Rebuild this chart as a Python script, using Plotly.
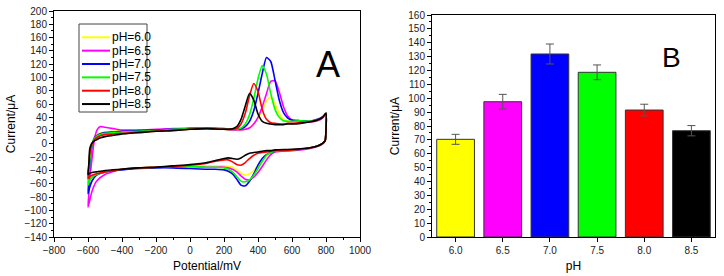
import plotly.graph_objects as go

# ---------------- Data ----------------
series_names = ["pH=6.0", "pH=6.5", "pH=7.0", "pH=7.5", "pH=8.0", "pH=8.5"]
series_colors = ["#FFFF00", "#FF00FF", "#0000FF", "#00FF00", "#FF0000", "#000000"]

# anodic (forward) branch potentials, mV
up_E = [-600, -595, -590, -580, -570, -560, -545, -530, -500, -450, -400, -300, -200, -100, 0, 100,
        200, 250, 275, 300, 325, 350, 375, 400, 425, 450, 475, 500, 525, 550, 575, 600, 650, 700,
        750, 780, 800]
# cathodic (reverse) branch potentials, mV
dn_E = [800, 795, 780, 750, 700, 600, 500, 475, 450, 425, 400, 375, 350, 325, 300, 275, 250, 225,
        200, 150, 100, 0, -100, -200, -300, -400, -500, -550, -575, -590, -600]

ph60_up = [-57, -40, -20, -4, 5, 10, 14, 16, 18, 19, 20, 20, 21, 22, 23, 24,
           22, 21, 21, 21, 22, 25, 30, 38, 50, 65, 70, 60, 46, 37, 34, 34, 34, 34,
           36, 40, 45]
ph65_up = [-95, -75, -55, -30, -8, 10, 22, 26, 25, 23, 21, 21, 22, 23, 24, 24,
           22, 21, 21, 21, 22, 24, 30, 40, 56, 76, 94, 95, 78, 56, 42, 36, 35, 33,
           35, 39, 44]
ph70_up = [-75, -55, -32, -8, 4, 10, 13, 15, 17, 18, 19, 20, 21, 22, 23, 24,
           23, 22, 22, 23, 26, 34, 50, 76, 106, 130, 124, 96, 66, 47, 39, 36, 35, 34,
           37, 41, 46]
ph75_up = [-62, -45, -25, -5, 4, 9, 12, 14, 16, 17, 18, 19, 20, 22, 23, 24,
           22, 22, 22, 24, 30, 44, 68, 98, 118, 105, 76, 52, 40, 35, 34, 34, 35, 34,
           36, 40, 46]
ph80_up = [-52, -35, -15, -3, 3, 7, 10, 12, 14, 15, 16, 18, 19, 21, 22, 23,
           22, 22, 23, 30, 46, 72, 91, 79, 52, 37, 32, 31, 30, 30, 31, 31, 32, 33,
           36, 40, 46]
ph85_up = [-46, -30, -8, 0, 3, 5, 7, 9, 11, 13, 15, 17, 19, 20, 22, 23,
           22, 23, 26, 37, 57, 76, 66, 45, 34, 31, 30, 29, 29, 29, 30, 30, 31, 33,
           36, 40, 46]

ph60_dn = [22, 5, 1, -3, -6, -9, -12, -14, -18, -25, -33, -40, -45, -47, -44, -39, -35, -34,
           -33, -33, -33, -33, -34, -35, -36, -38, -42, -46, -49, -53, -57]
ph65_dn = [22, 5, 0, -4, -7, -10, -12, -16, -24, -34, -43, -50, -54, -53, -48, -42, -38, -36,
           -35, -35, -35, -34, -34, -35, -36, -38, -46, -56, -70, -85, -95]
ph70_dn = [22, 5, 1, -3, -6, -9, -11, -13, -16, -22, -32, -45, -56, -63, -62, -53, -45, -41,
           -39, -38, -38, -37, -36, -36, -37, -39, -42, -47, -55, -65, -75]
ph75_dn = [22, 5, 1, -3, -6, -9, -11, -13, -17, -26, -37, -47, -54, -57, -56, -49, -42, -38,
           -36, -35, -35, -34, -34, -35, -36, -38, -42, -46, -50, -55, -62]
ph80_dn = [22, 5, 1, -3, -6, -9, -10, -11, -12, -13, -14, -17, -22, -28, -32, -31, -27, -24,
           -24, -26, -29, -32, -34, -35, -36, -38, -42, -45, -47, -49, -52]
ph85_dn = [22, 5, 1, -3, -6, -8, -9, -10, -10, -11, -12, -13, -14, -17, -21, -23, -22, -21,
           -22, -25, -28, -31, -33, -35, -36, -38, -40, -42, -43, -44, -46]

up_curves = [ph60_up, ph65_up, ph70_up, ph75_up, ph80_up, ph85_up]
dn_curves = [ph60_dn, ph65_dn, ph70_dn, ph75_dn, ph80_dn, ph85_dn]

# bar chart
ph_labels = ["6.0", "6.5", "7.0", "7.5", "8.0", "8.5"]
peak_current = [70.4, 97.5, 131.9, 118.7, 91.5, 76.6]
peak_error = [3.6, 5.3, 7.2, 5.3, 4.2, 3.7]

FONT = "Arial, Liberation Sans, sans-serif"
W, H = 724, 276

fig = go.Figure()

for name, col, up, dn in zip(series_names, series_colors, up_curves, dn_curves):
    fig.add_trace(go.Scatter(
        x=up_E + dn_E, y=up + dn, mode="lines", name=name,
        line=dict(color=col, width=1.6, shape="spline", smoothing=0.6),
        xaxis="x", yaxis="y", showlegend=False,
    ))

fig.add_trace(go.Bar(
    x=ph_labels, y=peak_current,
    marker=dict(color=series_colors, line=dict(color="#333333", width=1)),
    error_y=dict(type="data", array=peak_error, visible=True, color="#555555",
                 thickness=1, width=4),
    width=0.8, xaxis="x2", yaxis="y2", showlegend=False,
))

axis_common = dict(
    showline=True, linecolor="black", linewidth=1, mirror=True, automargin=False,
    ticks="outside", ticklen=4, tickcolor="black", showgrid=False, zeroline=False,
    tickfont=dict(family=FONT, size=10, color="#222"),
)

# ---- legend box drawn in paper space (compact, Origin-style) ----
leg_left, leg_right, leg_top, leg_bottom = 79, 147, 24, 112
row0, row_step = 37.3, 13.35
shapes = [dict(type="rect", xref="paper", yref="paper",
               x0=leg_left / W, x1=leg_right / W, y0=1 - leg_bottom / H, y1=1 - leg_top / H,
               line=dict(color="#444", width=1), fillcolor="rgba(0,0,0,0)", layer="above")]
annotations = []
for i, (name, col) in enumerate(zip(series_names, series_colors)):
    yy = 1 - (row0 + i * row_step) / H
    shapes.append(dict(type="line", xref="paper", yref="paper",
                       x0=82 / W, x1=110 / W, y0=yy, y1=yy,
                       line=dict(color=col, width=2), layer="above"))
    annotations.append(dict(text=name, x=110 / W, y=yy, xref="paper", yref="paper",
                            xanchor="left", yanchor="middle", showarrow=False,
                            font=dict(family=FONT, size=12, color="black")))

annotations += [
    dict(text="A", x=328 / W, y=1 - 42 / H, xref="paper", yref="paper",
         showarrow=False, font=dict(family=FONT, size=36, color="black")),
    dict(text="B", x=683 / W, y=1 - 40 / H, xref="paper", yref="paper",
         showarrow=False, font=dict(family=FONT, size=28, color="black")),
]

fig.update_layout(
    width=W, height=H,
    margin=dict(l=0, r=0, t=0, b=0, autoexpand=False),
    paper_bgcolor="white", plot_bgcolor="white",
    font=dict(family=FONT, color="black"),
    showlegend=False,
    xaxis=dict(domain=[54 / W, 360 / W], range=[-800, 1000], dtick=200,
               minor=dict(ticks="outside", ticklen=2, dtick=100, tickcolor="black"),
               title=dict(text="Potential/mV", font=dict(size=12), standoff=6),
               anchor="y", **axis_common),
    yaxis=dict(domain=[1 - 237 / H, 1 - 11 / H], range=[-140, 200], dtick=20,
               minor=dict(ticks="outside", ticklen=2, dtick=10, tickcolor="black"),
               title=dict(text="Current/μA", font=dict(size=12), standoff=6),
               anchor="x", **axis_common),
    xaxis2=dict(domain=[432 / W, 715 / W], range=[-0.5, 5.5], type="category",
                title=dict(text="pH", font=dict(size=12), standoff=6),
                anchor="y2", **axis_common),
    yaxis2=dict(domain=[1 - 237 / H, 1 - 15 / H], range=[0, 160], dtick=10,
                minor=dict(ticks="outside", ticklen=2, dtick=5, tickcolor="black"),
                title=dict(text="Current/μA", font=dict(size=12), standoff=6),
                anchor="x2", **axis_common),
    shapes=shapes,
    annotations=annotations,
)

fig.write_html(
    "out.html",
    config={"displayModeBar": False, "staticPlot": True},
    post_script="document.body.style.margin='0';document.body.style.overflow='hidden';",
)
